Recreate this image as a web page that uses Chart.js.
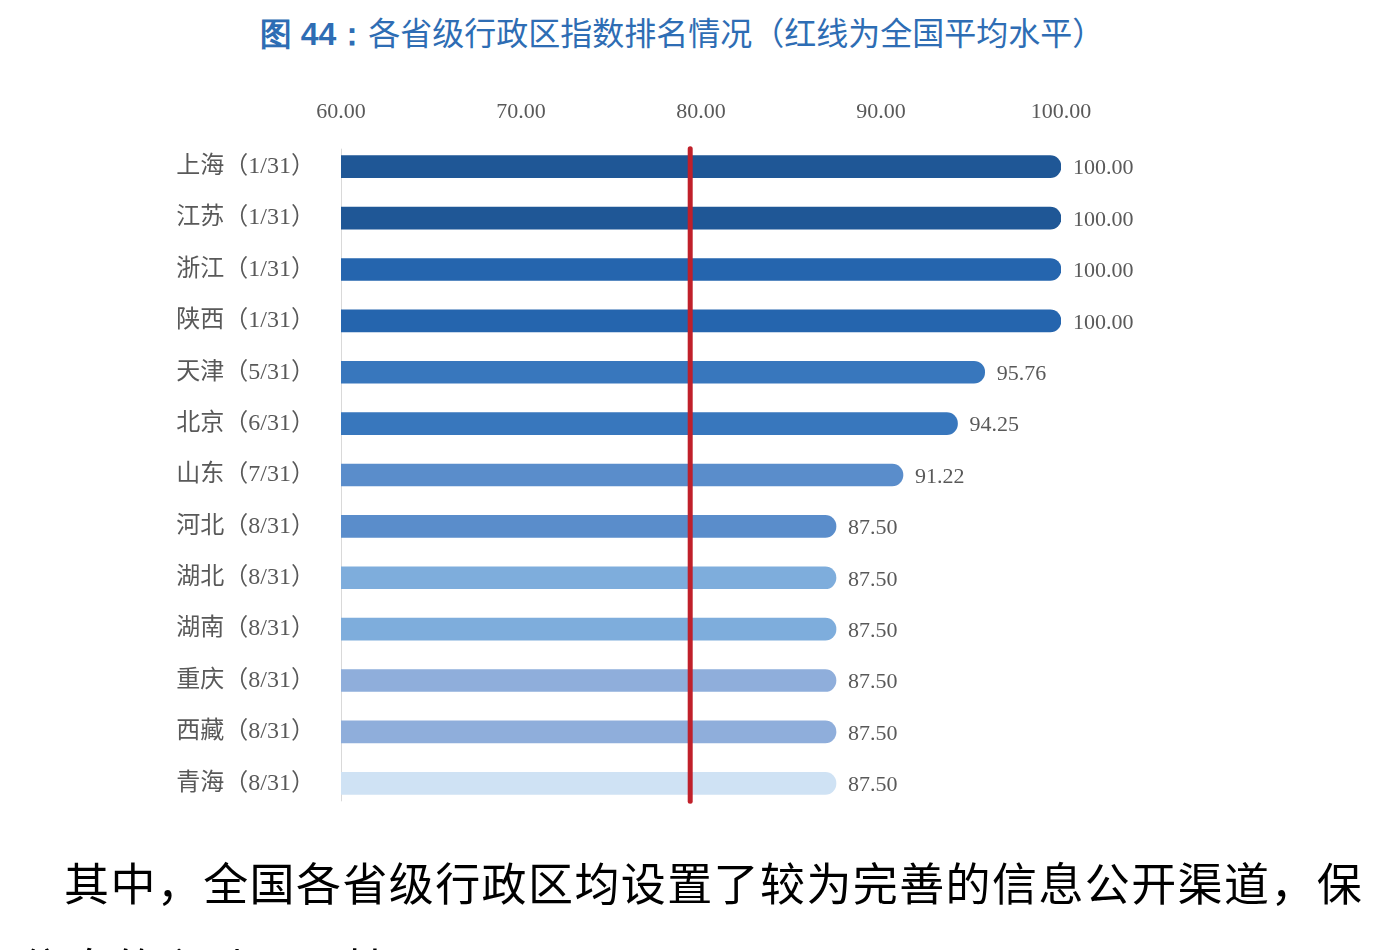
<!DOCTYPE html>
<html>
<head>
<meta charset="utf-8">
<script src="https://cdn.jsdelivr.net/npm/chart.js@4/dist/chart.umd.min.js"></script>
<style>
	html, body { margin: 0; padding: 0; background: #fff; width: 1384px; height: 950px; overflow: hidden; position: relative; }
	#title { position: absolute; left: 0; top: 8px; width: 1364px; text-align: center; font-family: "Noto Sans CJK SC", sans-serif; font-size: 32px; color: #2E6DB4; line-height: 46px; }
	#title b { font-family: "Liberation Sans Narrow", "Liberation Sans", sans-serif; font-weight: bold; }
	#wrap { position: absolute; left: 0; top: 0; width: 1384px; height: 950px; }
	.para { position: absolute; font-family: "Noto Sans CJK SC", serif; font-size: 45px; letter-spacing: 1.4px; color: #000; white-space: nowrap; line-height: 60px; }
</style>
</head>
<body>
<div id="title"><b>图 44：</b>各省级行政区指数排名情况（红线为全国平均水平）</div>
<div id="wrap"><canvas id="c" width="1384" height="950"></canvas></div>
<div class="para" style="left:64px; top:852px;">其中，全国各省级行政区均设置了较为完善的信息公开渠道，保</div>
<div class="para" style="left:-26px; top:938px;">证信息的主动公开性。</div>
<script>
// データ
var provinces = ["上海", "江苏", "浙江", "陕西", "天津", "北京", "山东", "河北", "湖北", "湖南", "重庆", "西藏", "青海"];
var ranks = ["1/31", "1/31", "1/31", "1/31", "5/31", "6/31", "7/31", "8/31", "8/31", "8/31", "8/31", "8/31", "8/31"];
var scores = [100.00, 100.00, 100.00, 100.00, 95.76, 94.25, 91.22, 87.50, 87.50, 87.50, 87.50, 87.50, 87.50];
var xTicks = [60, 70, 80, 90, 100];
var nationalAvg = 79.4;

var barColors = [
	"#1F5796", "#1F5796",
	"#2565AE", "#2565AE",
	"#3877BD", "#3877BD",
	"#5A8DCB", "#5A8DCB",
	"#7EADDC", "#7EADDC",
	"#8FAEDB", "#8FAEDB",
	"#CFE2F4",
];

var labels = [];
for(var i = 0; i < provinces.length; i++) {
	labels.push(provinces[i] + "（" + ranks[i] + "）");
}

var SERIF = "'Liberation Serif', 'Noto Sans CJK SC', serif";

// 数値ラベル
var valueLabelPlugin = {
	id: "valueLabels",
	afterDatasetsDraw: function(chart) {
		var ctx = chart.ctx;
		var meta = chart.getDatasetMeta(0);
		ctx.save();
		ctx.font = "22px " + SERIF;
		ctx.fillStyle = "#595959";
		ctx.textAlign = "left";
		ctx.textBaseline = "middle";
		meta.data.forEach(function(bar, i) {
			ctx.fillText(scores[i].toFixed(2), bar.x + 12, bar.y + 2);
		});
		ctx.restore();
	}
};

// 赤線（全国平均）と縦軸線
var avgLinePlugin = {
	id: "avgLine",
	beforeDatasetsDraw: function(chart) {
		var ctx = chart.ctx;
		var y = chart.scales.y;
		var x0 = chart.scales.x.getPixelForValue(chart.scales.x.min);
		ctx.save();
		ctx.strokeStyle = "#D9D9D9";
		ctx.lineWidth = 1;
		ctx.beginPath();
		ctx.moveTo(x0 + 0.5, y.getPixelForValue(0) - 18);
		ctx.lineTo(x0 + 0.5, y.getPixelForValue(provinces.length - 1) + 18);
		ctx.stroke();
		ctx.restore();
	},
	afterDatasetsDraw: function(chart) {
		var ctx = chart.ctx;
		var x = chart.scales.x.getPixelForValue(nationalAvg);
		var y = chart.scales.y;
		var top = y.getPixelForValue(0) - 18;
		var bottom = y.getPixelForValue(provinces.length - 1) + 18;
		ctx.save();
		ctx.strokeStyle = "#C0202A";
		ctx.lineWidth = 5;
		ctx.lineCap = "round";
		ctx.beginPath();
		ctx.moveTo(x, top);
		ctx.lineTo(x, bottom);
		ctx.stroke();
		ctx.restore();
	}
};

new Chart(document.getElementById("c").getContext("2d"), {
	type: "bar",
	data: {
		labels: labels,
		datasets: [
			{
				data: scores,
				backgroundColor: barColors,
				borderRadius: 11,
				borderSkipped: "start",
				barThickness: 22
			}
		]
	},
	options: {
		indexAxis: "y",
		responsive: false,
		animation: false,
		layout: { padding: { left: 0, right: 323, top: 80, bottom: 141 } },
		plugins: { legend: { display: false }, tooltip: { enabled: false } },
		scales: {
			x: {
				position: "top",
				min: 60,
				max: 100,
				afterBuildTicks: function(scale) {
					scale.ticks = xTicks.map(function(v) { return { value: v }; });
				},
				afterFit: function(scale) { scale.height = 61; },
				grid: { display: false, drawTicks: false },
				border: { display: false },
				ticks: {
					padding: 16,
					color: "#595959",
					font: { family: SERIF, size: 22 },
					callback: function(v) { return Number(v).toFixed(2); }
				}
			},
			y: {
				afterFit: function(scale) { scale.width = 341; },
				grid: { display: false, drawTicks: false },
				border: { display: false },
				ticks: {
					padding: 26,
					color: "#595959",
					font: { family: SERIF, size: 24 }
				}
			}
		}
	},
	plugins: [valueLabelPlugin, avgLinePlugin]
});
</script>
</body>
</html>
